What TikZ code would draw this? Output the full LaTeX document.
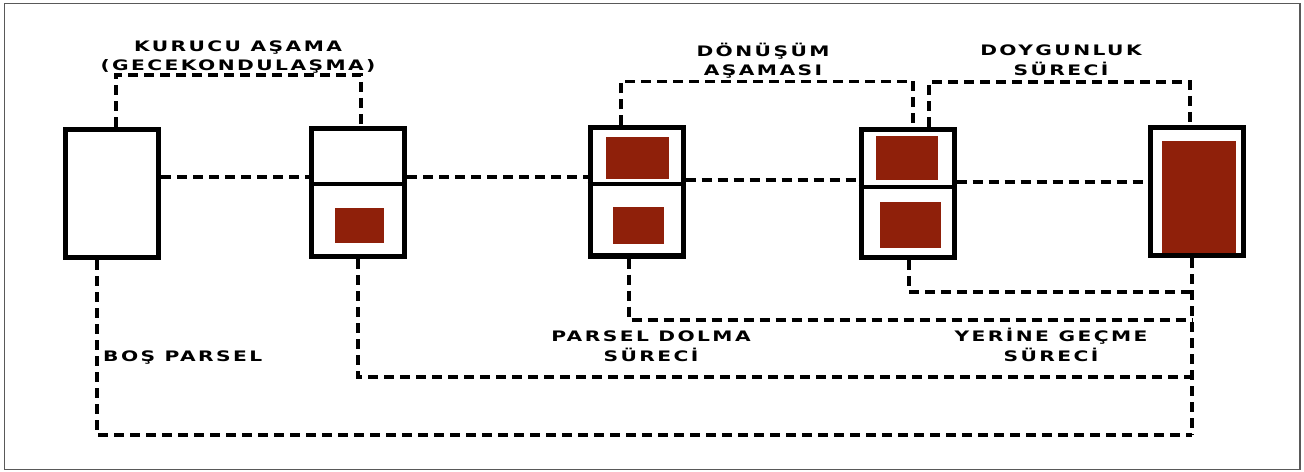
\documentclass[tikz,border=0pt]{standalone}
\usepackage{fontspec}
\usepackage{graphicx}
\usepackage{tikz}
\newfontfamily\lblfont{DejaVu Sans Bold}[LetterSpace=12]
\newcommand\wide[1]{\scalebox{1.4}[1]{#1}}
\definecolor{brick}{RGB}{143,32,10}

\begin{document}
\begin{tikzpicture}[x=1bp,y=-1bp,
  parcel/.style={draw,line width=5bp,fill=white,minimum width=93bp,minimum height=128bp,inner sep=0pt},
  house/.style={fill=brick,inner sep=0pt},
  link/.style={line width=3.2bp,dash pattern=on 10bp off 6bp},
  lbl/.style={font=\lblfont\fontsize{14.5}{20}\selectfont,align=center,anchor=base,inner sep=0pt}]
\useasboundingbox (0,0) rectangle (1304,472);
\draw[gray!70!black,line width=1.2bp] (4.5,3.5) rectangle (1300,469.5);
% parcels
\node[parcel] (b1) at (112,193.5) {};
\node[parcel] (b2) at (358,192.5) {};
\node[parcel] (b3) at (636.5,192) {};
\node[parcel] (b4) at (907.5,193.5) {};
\node[parcel] (b5) at (1196.5,191.5) {};
\draw[line width=3.5bp] (b2.west |- 0,184) -- (b2.east |- 0,184);
\draw[line width=3.5bp] (b3.west |- 0,184) -- (b3.east |- 0,184);
\draw[line width=3.5bp] (b4.west |- 0,187) -- (b4.east |- 0,187);
% buildings
\node[house,minimum width=49bp,minimum height=35bp] (r2) at (359.5,225.5) {};
\node[house,minimum width=63bp,minimum height=42bp] (r3a) at (637.5,158) {};
\node[house,minimum width=51bp,minimum height=37bp] (r3b) at (638.5,225.5) {};
\node[house,minimum width=62bp,minimum height=44bp] (r4a) at (907,158) {};
\node[house,minimum width=61bp,minimum height=46bp] (r4b) at (910.5,225) {};
\node[house,minimum width=74bp,minimum height=112bp] (r5) at (1199,197) {};
% links between parcels
\draw[link] (b1.east |- 0,177) -- (b2.west |- 0,177);
\draw[link] (b2.east |- 0,177) -- (b3.west |- 0,177);
\draw[link] (b3.east |- 0,180) -- (b4.west |- 0,180);
\draw[link] (b4.east |- 0,182) -- (b5.west |- 0,182);
\draw[link] (b1.north -| 116,0) -- ++(0,-52) -| (b2.north -| 361,0);
\draw[link] (b3.north -| 621,0) -- ++(0,-44) -| (b4.north -| 913,0);
\draw[link] (b4.north -| 929,0) -- ++(0,-45) -| (b5.north -| 1190,0);
\coordinate (j4) at (1192,292);
\coordinate (j3) at (1192,320);
\coordinate (j2) at (1192,377);
\coordinate (j1) at (1192,435);
\draw[link] (b5.south -| j1) -- (j1);
\draw[link] (b4.south -| 909,0) |- (j4);
\draw[link] (b3.south -| 629,0) |- (j3);
\draw[link] (b2.south -| 358,0) |- (j2);
\draw[link] (b1.south -| 97,0) |- (j1);
% labels
\node[lbl] (lk) at (238,71) {\wide{KURUCU AŞAMA}\\\wide{(GECEKONDULAŞMA)}};
\node[lbl] (ld) at (763,76) {\wide{DÖNÜŞÜM}\\\wide{AŞAMASI}};
\node[lbl] (ly) at (1061,75.5) {\wide{DOYGUNLUK}\\\wide{SÜRECİ}};
\node[lbl,anchor=base west] (lb) at (103,361.7) {\wide{BOŞ PARSEL}};
\node[lbl] (lp) at (651,361.7) {\wide{PARSEL DOLMA}\\\wide{SÜRECİ}};
\node[lbl] (lg) at (1051,361.7) {\wide{YERİNE GEÇME}\\\wide{SÜRECİ}};
\end{tikzpicture}
\end{document}
